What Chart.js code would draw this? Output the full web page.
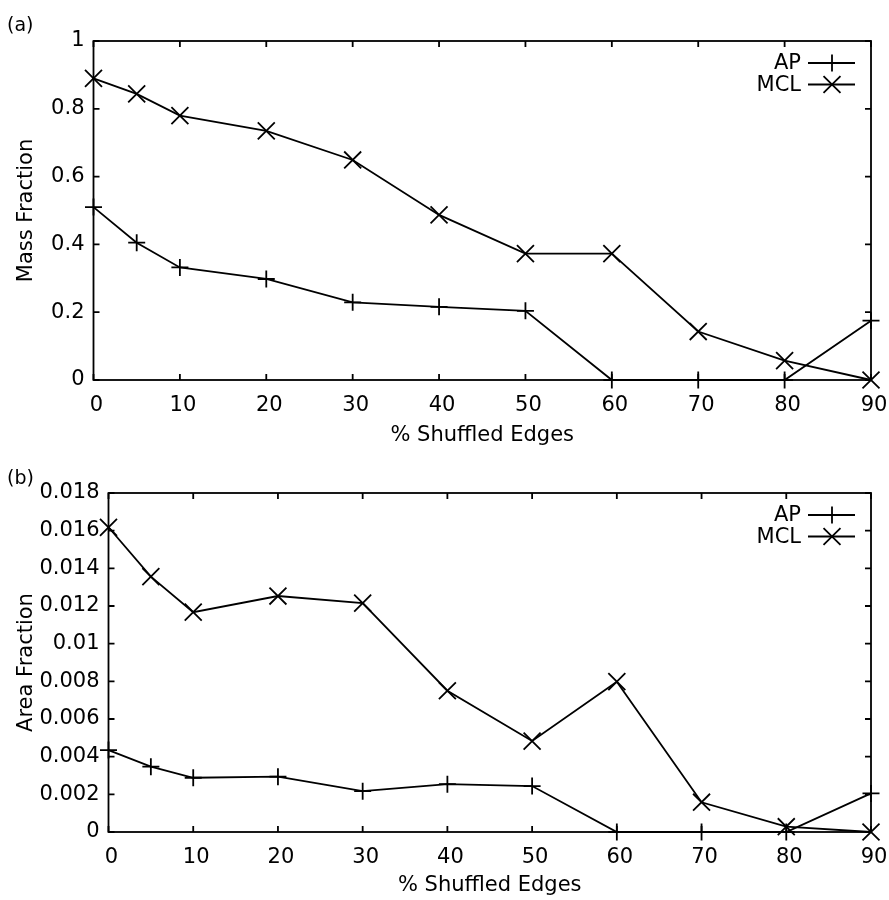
<!DOCTYPE html>
<html><head><meta charset="utf-8">
<script src="https://cdn.jsdelivr.net/npm/chart.js@4/dist/chart.umd.min.js"></script>
<style>
html,body{margin:0;padding:0;background:#fff;}
#wrap{position:relative;width:889px;height:900px;}
canvas{position:absolute;left:0;}
.lbl{position:absolute;font-family:'DejaVu Sans';font-size:19px;line-height:19px;color:#000;}
</style></head><body>
<div id="wrap">
<canvas id="ca" width="889" height="450" style="top:0"></canvas>
<canvas id="cb" width="889" height="450" style="top:450px"></canvas>
<div class="lbl" style="left:7px;top:15px">(a)</div>
<div class="lbl" style="left:7px;top:468px">(b)</div>
</div>
<script>
// ---- data ----
const shuffled = [0, 5, 10, 20, 30, 40, 50, 60, 70, 80, 90];
const massAP  = [0.51, 0.405, 0.332, 0.298, 0.229, 0.216, 0.204, 0, 0, 0, 0.175];
const massMCL = [0.89, 0.844, 0.78, 0.735, 0.649, 0.487, 0.373, 0.373, 0.143, 0.057, 0];
const areaAP  = [0.00435, 0.00347, 0.00288, 0.00294, 0.00217, 0.00254, 0.00244, 0, 0, 0, 0.00205];
const areaMCL = [0.01618, 0.01356, 0.01167, 0.01253, 0.01215, 0.0075, 0.00483, 0.00798, 0.00158, 0.00028, 0];
const seriesNames = ['AP', 'MCL'];
const xTicks = [0, 10, 20, 30, 40, 50, 60, 70, 80, 90];
const massTicks = [0, 0.2, 0.4, 0.6, 0.8, 1];
const areaTicks = [0, 0.002, 0.004, 0.006, 0.008, 0.01, 0.012, 0.014, 0.016, 0.018];
const xTitle = '% Shuffled Edges';
const massTitle = 'Mass Fraction';
const areaTitle = 'Area Fraction';

Chart.defaults.font.family = "'DejaVu Sans', sans-serif";
Chart.defaults.font.size = 21;
Chart.defaults.color = '#000';

const fmt = v => String(+Number(v).toFixed(4));

const framePlugin = {
  id: 'frame',
  beforeDatasetsDraw(chart) {
    const {ctx, chartArea: a, scales} = chart;
    ctx.save();
    ctx.strokeStyle = '#000';
    ctx.lineWidth = 1.8;
    const tl = 6;
    ctx.beginPath();
    scales.x.ticks.forEach(t => {
      const px = scales.x.getPixelForValue(t.value);
      ctx.moveTo(px, a.bottom); ctx.lineTo(px, a.bottom - tl);
      ctx.moveTo(px, a.top); ctx.lineTo(px, a.top + tl);
    });
    scales.y.ticks.forEach(t => {
      const py = scales.y.getPixelForValue(t.value);
      ctx.moveTo(a.left, py); ctx.lineTo(a.left + tl, py);
      ctx.moveTo(a.right, py); ctx.lineTo(a.right - tl, py);
    });
    ctx.stroke();
    ctx.strokeRect(a.left, a.top, a.right - a.left, a.bottom - a.top);
    ctx.restore();
  },
  afterDatasetsDraw(chart) {
    const {ctx, chartArea: a} = chart;
    ctx.save();
    chart.data.datasets.forEach((ds, i) => {
      const y = a.top + 22 + i * 21.5;
      ctx.font = "21px 'DejaVu Sans'";
      ctx.fillStyle = '#000';
      ctx.textAlign = 'right';
      ctx.textBaseline = 'middle';
      ctx.fillText(ds.label, a.right - 70, y + 1);
      ctx.strokeStyle = ds.borderColor;
      ctx.lineWidth = ds.borderWidth;
      ctx.beginPath();
      ctx.moveTo(a.right - 63, y); ctx.lineTo(a.right - 16, y);
      ctx.stroke();
      Chart.helpers.drawPoint(ctx, {
        pointStyle: ds.pointStyle, radius: ds.pointRadius, borderWidth: ds.pointBorderWidth, rotation: 0
      }, a.right - 39, y);
    });
    ctx.restore();
  }
};

function makeChart(id, apVals, mclVals, yTicks, yTitle, yWidth, topPad, xHeight) {
  const values = [apVals, mclVals];
  const styles = ['cross', 'crossRot'];
  const radii = [8.5, 12];
  return new Chart(document.getElementById(id), {
    type: 'line',
    data: {
      datasets: seriesNames.map((n, i) => ({
        label: n,
        data: shuffled.map((x, j) => ({x, y: values[i][j]})),
        borderColor: '#000',
        backgroundColor: '#000',
        borderWidth: 1.8,
        pointStyle: styles[i],
        pointRadius: radii[i],
        pointBorderWidth: 1.8,
        pointBorderColor: '#000',
        pointHoverRadius: radii[i],
        tension: 0,
        fill: false,
        clip: false
      }))
    },
    options: {
      responsive: false,
      animation: false,
      events: [],
      layout: {padding: {left: 0, top: topPad, right: 18, bottom: 0}},
      plugins: {legend: {display: false}, tooltip: {enabled: false}},
      scales: {
        x: {
          type: 'linear', min: 0, max: 90,
          afterBuildTicks: s => { s.ticks = xTicks.map(v => ({value: v})); },
          afterFit: s => { s.height = xHeight; s.paddingLeft = 0; s.paddingRight = 0; },
          grid: {display: false, drawTicks: false},
          border: {display: false},
          ticks: {padding: 13, labelOffset: 3, maxRotation: 0, autoSkip: false, callback: v => fmt(v)},
          title: {display: true, text: xTitle, padding: {top: 0, bottom: 2}}
        },
        y: {
          type: 'linear', min: yTicks[0], max: yTicks[yTicks.length - 1],
          afterBuildTicks: s => { s.ticks = yTicks.map(v => ({value: v})); },
          afterFit: s => { s.width = yWidth; s.paddingTop = 0; s.paddingBottom = 0; },
          grid: {display: false, drawTicks: false},
          border: {display: false},
          ticks: {padding: 9, autoSkip: false, callback: v => fmt(v)},
          title: {display: true, text: yTitle, padding: {top: 14, bottom: 0}}
        }
      }
    },
    plugins: [framePlugin]
  });
}

makeChart('ca', massAP, massMCL, massTicks, massTitle, 93.5, 41, 70);
makeChart('cb', areaAP, areaMCL, areaTicks, areaTitle, 108.5, 43, 68);
</script>
</body></html>
